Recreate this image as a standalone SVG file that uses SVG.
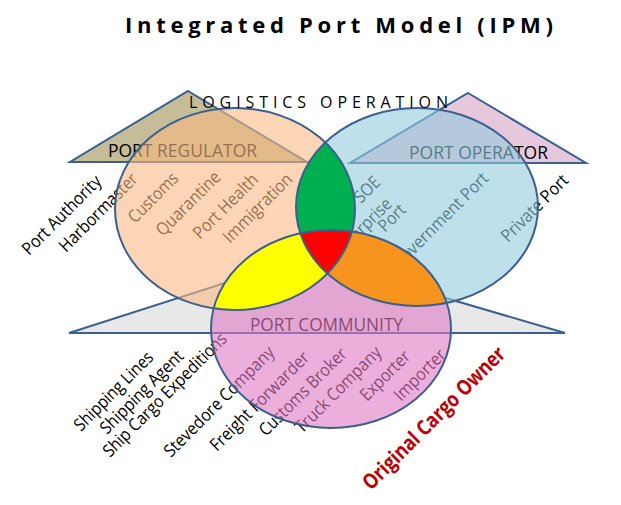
<svg xmlns="http://www.w3.org/2000/svg" width="621" height="505" viewBox="0 0 621 505">
  <style>
    .tri { stroke: #3b5f8e; stroke-width: 2; stroke-linejoin: miter; }
    .lbl { font-family: "Open Sans", "Liberation Sans", sans-serif; font-size: 17.5px; fill: #000; }
    .head { font-family: "Open Sans", "Liberation Sans", sans-serif; font-size: 18px; fill: #000; }
    .outline { fill: none; stroke: #3b5f8e; stroke-width: 2; }
  </style>
  <defs>
    <ellipse id="e1" cx="235" cy="209" rx="120" ry="101"/>
    <ellipse id="e2" cx="417" cy="207" rx="121" ry="99"/>
    <ellipse id="e3" cx="331" cy="329" rx="120" ry="99"/>
    <clipPath id="c1"><use href="#e1"/></clipPath>
    <clipPath id="c2"><use href="#e2"/></clipPath>
  </defs>
  <rect width="621" height="505" fill="#ffffff"/>

  <text id="title" x="125" y="33" font-family="'Open Sans', 'Liberation Sans', sans-serif" font-size="22" font-weight="bold" textLength="428" lengthAdjust="spacing">Integrated Port Model (IPM)</text>

  <g id="triangles">
    <polygon id="tri-regulator" class="tri" points="188,91 307,162 70,162" fill="#c4bd97"/>
    <polygon id="tri-operator" class="tri" points="468,93 586,163 350,163" fill="#e6c8dc"/>
    <polygon id="tri-community" class="tri" points="306,257 565,333 69,333" fill="#e8e8e8"/>
  </g>

  <g id="headings">
    <text class="head" x="108" y="157" textLength="149" lengthAdjust="spacingAndGlyphs">PORT REGULATOR</text>
    <text class="head" x="409" y="159" textLength="139" lengthAdjust="spacingAndGlyphs">PORT OPERATOR</text>
    <text class="head" x="250" y="331" textLength="153" lengthAdjust="spacingAndGlyphs">PORT COMMUNITY</text>
  </g>

  <g id="labels-regulator">
    <text class="lbl" x="29" y="256" transform="rotate(-45 29 256)" textLength="104" lengthAdjust="spacingAndGlyphs">Port Authority</text>
    <text class="lbl" x="66" y="253" transform="rotate(-45 66 253)" textLength="103" lengthAdjust="spacingAndGlyphs">Harbormaster</text>
    <text class="lbl" x="135" y="224" transform="rotate(-45 135 224)" textLength="63" lengthAdjust="spacingAndGlyphs">Customs</text>
    <text class="lbl" x="163" y="237" transform="rotate(-45 163 237)" textLength="83" lengthAdjust="spacingAndGlyphs">Quarantine</text>
    <text class="lbl" x="200" y="240" transform="rotate(-45 200 240)" textLength="84" lengthAdjust="spacingAndGlyphs">Port Health</text>
    <text class="lbl" x="230" y="244" transform="rotate(-45 230 244)" textLength="90" lengthAdjust="spacingAndGlyphs">Immigration</text>
  </g>

  <g id="labels-operator">
    <text class="lbl" x="361" y="204" transform="rotate(-45 361 204)" textLength="29" lengthAdjust="spacingAndGlyphs">SOE</text>
    <text class="lbl" x="340" y="258" transform="rotate(-45 340 258)" textLength="75" lengthAdjust="spacingAndGlyphs">Enterprise</text>
    <text class="lbl" x="385" y="233" transform="rotate(-45 385 233)" textLength="31" lengthAdjust="spacingAndGlyphs">Port</text>
    <text class="lbl" x="399" y="270" transform="rotate(-45 399 270)" textLength="128" lengthAdjust="spacingAndGlyphs">Government Port</text>
    <text class="lbl" x="508" y="243" transform="rotate(-45 508 243)" textLength="87" lengthAdjust="spacingAndGlyphs">Private Port</text>
  </g>

  <g id="labels-community">
    <text class="lbl" x="81" y="432" transform="rotate(-45 81 432)" textLength="104" lengthAdjust="spacingAndGlyphs">Shipping Lines</text>
    <text class="lbl" x="107" y="435" transform="rotate(-45 107 435)" textLength="110" lengthAdjust="spacingAndGlyphs">Shipping Agent</text>
    <text class="lbl" x="110" y="458" transform="rotate(-45 110 458)" textLength="167" lengthAdjust="spacingAndGlyphs">Ship Cargo Expeditions</text>
    <text class="lbl" x="171" y="458" transform="rotate(-45 171 458)" textLength="148" lengthAdjust="spacingAndGlyphs">Stevedore Company</text>
    <text class="lbl" x="217" y="452" transform="rotate(-45 217 452)" textLength="132" lengthAdjust="spacingAndGlyphs">Freight Forwarder</text>
    <text class="lbl" x="266" y="437" transform="rotate(-45 266 437)" textLength="116" lengthAdjust="spacingAndGlyphs">Customs Broker</text>
    <text class="lbl" x="302" y="434" transform="rotate(-45 302 434)" textLength="114" lengthAdjust="spacingAndGlyphs">Truck Company</text>
    <text class="lbl" x="367" y="402" transform="rotate(-45 367 402)" textLength="63" lengthAdjust="spacingAndGlyphs">Exporter</text>
    <text class="lbl" x="401" y="402" transform="rotate(-45 401 402)" textLength="65" lengthAdjust="spacingAndGlyphs">Importer</text>
  </g>

  <g id="circles">
    <use id="circle-regulator" href="#e1" fill="#f8b984" fill-opacity="0.6"/>
    <use id="circle-operator" href="#e2" fill="#93cbdc" fill-opacity="0.6"/>
    <use id="circle-community" href="#e3" fill="#df78c1" fill-opacity="0.6"/>
  </g>

  <g id="overlaps">
    <use id="overlap-green" href="#e2" clip-path="url(#c1)" fill="#00b050"/>
    <use id="overlap-yellow" href="#e3" clip-path="url(#c1)" fill="#ffff00"/>
    <use id="overlap-orange" href="#e3" clip-path="url(#c2)" fill="#f7941e"/>
    <g clip-path="url(#c1)">
      <use id="overlap-red" href="#e3" clip-path="url(#c2)" fill="#ff0000"/>
    </g>
  </g>

  <g id="outlines">
    <use href="#e1" class="outline"/>
    <use href="#e2" class="outline"/>
    <use href="#e3" class="outline"/>
  </g>

  <text id="logistics" x="189" y="108" font-family="'Open Sans', 'Liberation Sans', sans-serif" font-size="16" fill="#000" textLength="259" lengthAdjust="spacing">LOGISTICS OPERATION</text>

  <text id="cargo-owner" x="371" y="491" transform="rotate(-45 371 491)" font-family="'Open Sans', 'Liberation Sans', sans-serif" font-size="21" font-weight="bold" fill="#c00000" textLength="192" lengthAdjust="spacingAndGlyphs">Original Cargo Owner</text>
</svg>
